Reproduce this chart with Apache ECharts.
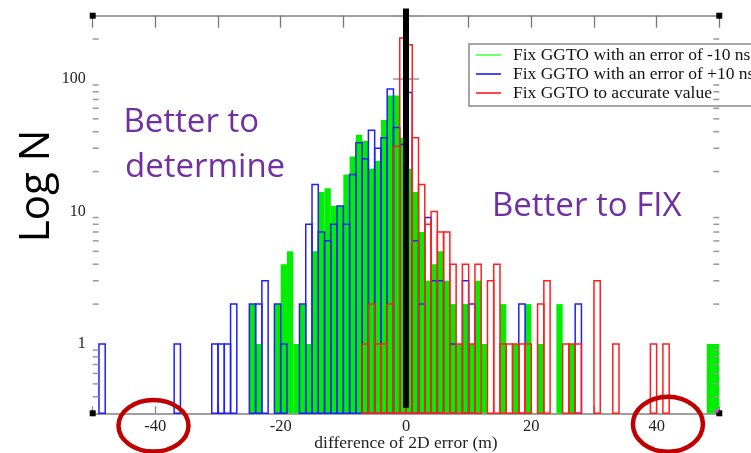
<!DOCTYPE html>
<html><head><meta charset="utf-8">
<script src="https://cdn.jsdelivr.net/npm/echarts@6/dist/echarts.min.js"></script>
<style>html,body{margin:0;padding:0;background:#fff}#c{width:751px;height:453px}</style>
</head><body><div id="c"></div>
<script>
// ---- data ----
const seriesNames = ['Fix GGTO with an error of -10 ns', 'Fix GGTO with an error of +10 ns', 'Fix GGTO to accurate value'];
const xLabelTicks = [-40, -20, 0, 20, 40];
const yLabelTicks = [1, 10, 100];
const yMinorTicks = [0.4, 0.5, 0.6, 0.7, 0.8, 0.9, 2, 3, 4, 5, 6, 7, 8, 9, 20, 30, 40, 50, 60, 70, 80, 90, 200];
// histogram bins (left edge, width 1 m) and counts
const greenBins   = [-25,-24,-21,-20,-19,-18,-17,-16,-15,-14,-13,-12,-11,-10,-9,-8,-7,-6,-5,-4,-3,-2,-1,0,1,2,3,4,5,6,7,8,9,10,11,12,15,17,19,21,24,26,48,49];
const greenCounts = [2,1,2,4,5,1,2,1,5,14,15,11,11,19,26,38,34,21,24,49,75,75,36,21,14,7,3,4,5,3,2,1,2,1,3,1,2,1,2,1,2,1,1,1];
const blueBins    = [-49,-37,-31,-30,-29,-28,-25,-24,-23,-21,-20,-17,-16,-15,-14,-13,-12,-11,-10,-9,-8,-7,-6,-5,-4,-3,-2,-1,0,1,2,3,4,5,7,9,10,18,27];
const blueCounts  = [1,1,1,1,1,2,2,2,3,2,1,2,8,16,7,6,8,11,8,19,33,25,41,30,36,84,43,32,79,6,2,9,3,3,1,3,2,2,2];
const redBins     = [-7,-6,-5,-4,-3,-2,-1,0,1,2,3,4,5,6,7,8,9,10,11,13,14,15,16,17,18,19,21,22,25,26,27,30,33,39,41];
const redCounts   = [1,2,1,1,2,31,204,181,36,16,8,10,7,7,4,1,4,1,4,3,4,1,1,1,1,1,2,3,1,1,1,3,1,1,1];
const zeroLine = [[0, 0.33, 340]];

const X_MIN = -50, X_MAX = 50, Y_MIN = 0.3, Y_MAX = 300, BIN_W = 1;

const chart = echarts.init(document.getElementById('c'));

function barRenderer(fill, stroke) {
  return function (params, api) {
    const left = api.value(0), n = api.value(1);
    const tl = api.coord([left, n]);
    const br = api.coord([left + BIN_W, Y_MIN]);
    return {
      type: 'rect',
      shape: { x: tl[0], y: tl[1], width: br[0] - tl[0], height: br[1] - tl[1] },
      style: fill ? { fill: fill, stroke: null } : { fill: null, stroke: stroke, lineWidth: 1.5 }
    };
  };
}
const pairs = (b, c) => b.map((v, i) => [v, c[i]]);
const serif = 'Liberation Serif';

const option = {
  animation: false,
  backgroundColor: '#fff',
  grid: { left: 92.7, right: 31.7, top: 15.7, bottom: 39.7, outerBoundsMode: 'none', containLabel: false },
  legend: {
    orient: 'vertical', left: 469, top: 44,
    icon: 'rect', itemWidth: 25, itemHeight: 2, itemGap: 1,
    padding: [2, 8, 4, 7],
    borderColor: '#888', borderWidth: 1.5, backgroundColor: '#fff',
    textStyle: { fontFamily: serif, fontSize: 17.5, color: '#111', lineHeight: 17, padding: [0, 0, 0, 7] },
    data: [
      { name: seriesNames[0], itemStyle: { color: '#70ff70' } },
      { name: seriesNames[1], itemStyle: { color: '#4848ff' } },
      { name: seriesNames[2], itemStyle: { color: '#ff4848' } }
    ]
  },
  xAxis: [{
    type: 'value', min: X_MIN, max: X_MAX, interval: 10, position: 'bottom',
    axisLine: { lineStyle: { color: '#a0a0a0', width: 2 } },
    axisTick: { inside: true, length: 7, lineStyle: { color: '#888', width: 1.3 } },
    axisLabel: { margin: 5, fontFamily: serif, fontSize: 16.5, color: '#222',
      formatter: v => xLabelTicks.indexOf(v) >= 0 ? String(v) : '' },
    splitLine: { show: false },
    name: 'difference of 2D error (m)', nameLocation: 'middle', nameGap: 21, nameMoveOverlap: false,
    nameTextStyle: { fontFamily: serif, fontSize: 17.5, color: '#222' }
  }, {
    type: 'value', min: X_MIN, max: X_MAX, interval: 10, position: 'top',
    axisLine: { lineStyle: { color: '#a0a0a0', width: 2 } },
    axisTick: { inside: true, length: 12, lineStyle: { color: '#777', width: 1.3 } },
    axisLabel: { show: false }, splitLine: { show: false }
  }],
  yAxis: [{
    type: 'log', logBase: 10, min: Y_MIN, max: Y_MAX, position: 'left',
    axisLine: { lineStyle: { color: '#222', width: 1.3 } },
    axisTick: { inside: true, length: 13, lineStyle: { color: '#999', width: 1.5 } },
    axisLabel: { margin: 7, fontFamily: serif, fontSize: 16, color: '#222',
      formatter: v => { const t = yLabelTicks.find(t => Math.abs(v - t) < 1e-6 * t); return t ? String(t) : ''; } },
    splitLine: { show: false }
  }, {
    type: 'log', logBase: 10, min: Y_MIN, max: Y_MAX, position: 'right',
    axisLine: { lineStyle: { color: '#a0a0a0', width: 2 } },
    axisTick: { inside: true, length: 13, lineStyle: { color: '#999', width: 1.5 } },
    axisLabel: { show: false }, splitLine: { show: false }
  }],
  series: [
    { name: seriesNames[0], type: 'custom', renderItem: barRenderer('#00ee00'), data: pairs(greenBins, greenCounts), itemStyle: { color: '#70ff70' }, z: 2 },
    { name: seriesNames[1], type: 'custom', renderItem: barRenderer(null, '#1f1fff'), data: pairs(blueBins, blueCounts), itemStyle: { color: '#4848ff' }, z: 3 },
    { name: seriesNames[2], type: 'custom', renderItem: barRenderer(null, '#ff1f1f'), data: pairs(redBins, redCounts), itemStyle: { color: '#ff4848' }, z: 4 },
    { name: 'zero', type: 'custom', clip: false, z: 5, data: zeroLine,
      renderItem: (p, api) => {
        const a = api.coord([api.value(0), api.value(1)]), b = api.coord([api.value(0), api.value(2)]);
        return { type: 'line', shape: { x1: a[0], y1: a[1], x2: b[0], y2: b[1] }, style: { stroke: '#000', lineWidth: 6 } };
      } },
    { name: 'minorTicks', type: 'custom', clip: false, z: 6, data: yMinorTicks.map(v => [X_MIN, v]),
      renderItem: (p, api) => {
        const v = api.value(1);
        const l = api.coord([X_MIN, v]), r = api.coord([X_MAX, v]);
        return { type: 'group', children: [
          { type: 'line', shape: { x1: l[0], y1: l[1], x2: l[0] + 6, y2: l[1] }, style: { stroke: '#999', lineWidth: 1.5 } },
          { type: 'line', shape: { x1: r[0], y1: r[1], x2: r[0] - 6, y2: r[1] }, style: { stroke: '#999', lineWidth: 1.5 } }
        ] };
      } }
  ]
};
chart.setOption(option);

// annotations positioned through the axes
const px = (x, y) => chart.convertToPixel({ xAxisIndex: 0, yAxisIndex: 0 }, [x, y]);
const tl = px(X_MIN, Y_MAX), br = px(X_MAX, Y_MIN);
const e1 = px(-40.3, Y_MIN), e2 = px(41.8, Y_MIN);
const sq = (x, y, c, s) => ({ type: 'rect', shape: { x: x - s / 2, y: y - s / 2, width: s, height: s }, style: { fill: c }, z: 20 });
const purple = '#7030a0';
const txt = (t, x, y) => ({ type: 'text', x: x, y: y, z: 20,
  style: { text: t, fill: purple, fontFamily: 'Open Sans', fontSize: 33, align: 'left', verticalAlign: 'middle' } });
chart.setOption({ graphic: [
  txt('Better to', 123.5, 122.3),
  txt('determine', 125, 167.3),
  txt('Better to FIX', 492, 206.6),
  { type: 'text', x: 37.5, y: 186, rotation: Math.PI / 2, z: 20,
    style: { text: 'Log N', fill: '#000', fontFamily: 'Open Sans', fontSize: 42, align: 'center', verticalAlign: 'middle' } },
  { type: 'ellipse', z: 20, shape: { cx: e1[0], cy: e1[1] + 12.5, rx: 35, ry: 25.8 }, style: { fill: null, stroke: '#c00000', lineWidth: 4.5 } },
  { type: 'ellipse', z: 20, shape: { cx: e2[0], cy: e2[1] + 11, rx: 35, ry: 27.5 }, style: { fill: null, stroke: '#c00000', lineWidth: 4.5 } },
  sq(tl[0], tl[1], '#000', 6), sq(br[0], tl[1], '#000', 6), sq(tl[0], br[1], '#000', 6), sq(br[0], br[1], '#000', 6),
  sq(br[0] - 2.5, br[1] - 2.5, '#ff33ff', 3.5)
] });
</script></body></html>
